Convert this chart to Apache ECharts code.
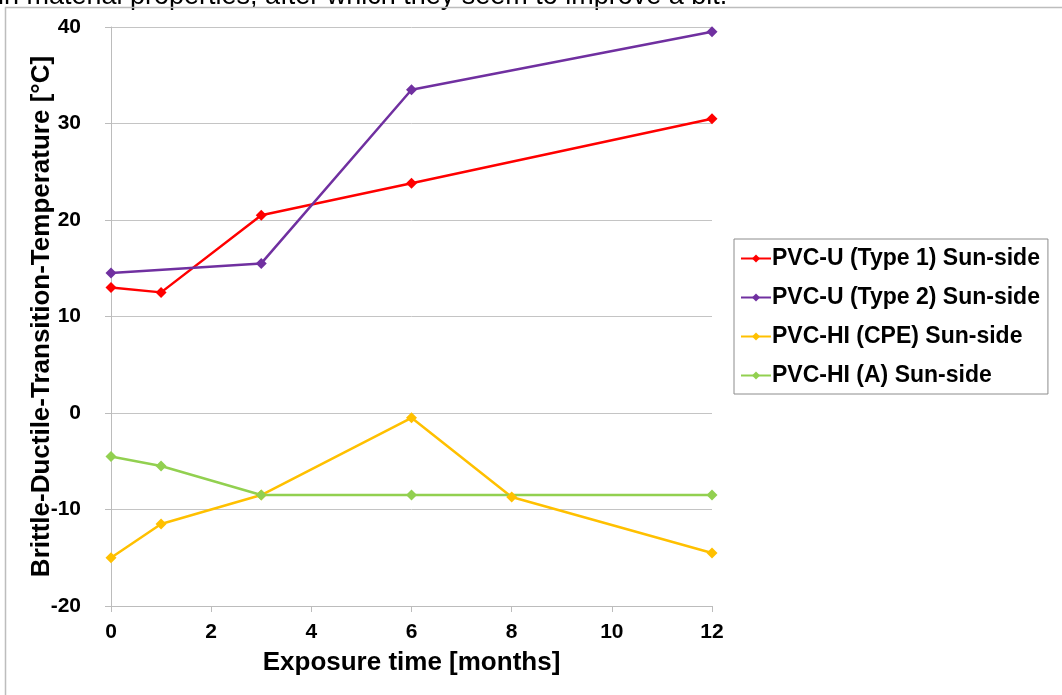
<!DOCTYPE html>
<html>
<head>
<meta charset="utf-8">
<script src="https://cdn.jsdelivr.net/npm/echarts@6/dist/echarts.min.js"></script>
<style>
  html, body { margin: 0; padding: 0; background: #fff; }
  #main { width: 1062px; height: 695px; }
</style>
</head>
<body>
<div id="main"></div>
<script>
var monthsType1 = [0, 1, 3, 6, 12];
var type1Sun = [13, 12.5, 20.5, 23.8, 30.5];
var monthsType2 = [0, 3, 6, 12];
var type2Sun = [14.5, 15.5, 33.5, 39.5];
var monthsCpe = [0, 1, 3, 6, 8, 12];
var cpeSun = [-15, -11.5, -8.5, -0.5, -8.7, -14.5];
var monthsA = [0, 1, 3, 6, 12];
var aSun = [-4.5, -5.5, -8.5, -8.5, -8.5];

var seriesNames = [
    'PVC-U (Type 1) Sun-side',
    'PVC-U (Type 2) Sun-side',
    'PVC-HI (CPE) Sun-side',
    'PVC-HI (A) Sun-side'
];
var seriesColors = ['#ff0000', '#7030a0', '#ffc000', '#92d050'];

function pairs(xs, ys) {
    return xs.map(function (x, i) { return [x, ys[i]]; });
}

function makeLine(idx, xs, ys) {
    return {
        name: seriesNames[idx],
        type: 'line',
        data: pairs(xs, ys),
        symbol: 'diamond',
        symbolSize: 11,
        showSymbol: true,
        color: seriesColors[idx],
        lineStyle: { width: 2.5, color: seriesColors[idx] },
        itemStyle: { color: seriesColors[idx] },
        emphasis: { disabled: true },
        animation: false
    };
}

var chart = echarts.init(document.getElementById('main'));
var font = 'Liberation Sans, Arial, sans-serif';

var option = {
    backgroundColor: '#fff',
    animation: false,
    graphic: [
        {
            // caption text from the page above, cut off by the frame
            type: 'text',
            left: -2,
            top: -17,
            style: {
                text: 'in material properties, after which they seem to improve a bit.',
                font: '27px ' + font,
                fill: '#000'
            }
        },
        {
            type: 'polyline',
            shape: { points: [[5.5, 695], [5.5, 7.5], [1062, 7.5]] },
            style: { stroke: '#bdbdbd', lineWidth: 1.5, fill: null }
        }
    ],
    grid: { left: 111, right: 350, top: 27, bottom: 89 },
    legend: {
        orient: 'vertical',
        left: 734,
        top: 239,
        padding: [8, 8, 7, 6],
        itemGap: 16,
        itemWidth: 30,
        itemHeight: 10,
        borderColor: '#8c8c8c',
        borderWidth: 1,
        textStyle: { fontFamily: font, fontWeight: 'bold', fontSize: 23, color: '#000', padding: [0, 0, 0, -4] },
        data: seriesNames
    },
    xAxis: {
        type: 'value',
        min: 0,
        max: 12,
        interval: 2,
        name: 'Exposure time [months]',
        nameLocation: 'middle',
        nameGap: 44,
        nameMoveOverlap: false,
        nameTextStyle: { fontFamily: font, fontWeight: 'bold', fontSize: 26, color: '#000' },
        axisLine: { show: true, onZero: false, lineStyle: { color: '#bcbcbc', width: 1 } },
        axisTick: { show: true, length: 6, lineStyle: { color: '#bcbcbc' } },
        axisLabel: { fontFamily: font, fontWeight: 'bold', fontSize: 21, color: '#000', margin: 16 },
        splitLine: { show: false }
    },
    yAxis: {
        type: 'value',
        min: -20,
        max: 40,
        interval: 10,
        name: 'Brittle-Ductile-Transition-Temperature [°C]',
        nameLocation: 'middle',
        nameGap: 56,
        nameMoveOverlap: false,
        nameTextStyle: { fontFamily: font, fontWeight: 'bold', fontSize: 26, color: '#000' },
        axisLine: { show: true, onZero: false, lineStyle: { color: '#bcbcbc', width: 1 } },
        axisTick: { show: true, length: 6, lineStyle: { color: '#bcbcbc' } },
        axisLabel: { fontFamily: font, fontWeight: 'bold', fontSize: 21, color: '#000', margin: 30 },
        splitLine: { show: true, lineStyle: { color: '#c4c4c4', width: 1 } }
    },
    series: [
        makeLine(0, monthsType1, type1Sun),
        makeLine(1, monthsType2, type2Sun),
        makeLine(2, monthsCpe, cpeSun),
        makeLine(3, monthsA, aSun)
    ]
};

chart.setOption(option);
</script>
</body>
</html>
